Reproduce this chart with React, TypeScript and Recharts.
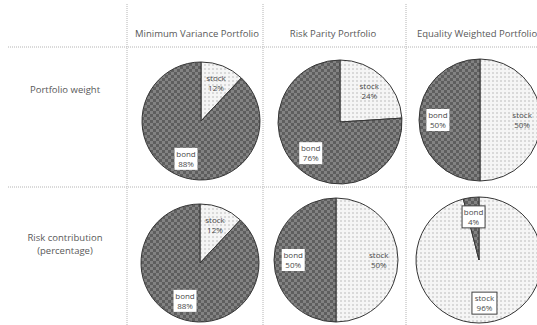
import { PieChart, Pie, Cell } from 'recharts'

// asset split, stock slice first (clockwise from 12 o'clock)
const assets = ['stock', 'bond']
const columns = ['Minimum Variance Portfolio', 'Risk Parity Portfolio', 'Equality Weighted Portfolio']
const rows = [['Portfolio weight'], ['Risk contribution', '(percentage)']]

const weightMV = [12, 88]
const weightRP = [24, 76]
const weightEW = [50, 50]
const riskMV = [12, 88]
const riskRP = [50, 50]
const riskEW = [96, 4]

const toSlices = (values: number[]) => values.map((v, i) => ({ name: assets[i], value: v }))

const W = 537
const H = 325
const TEXT = '#595959'
const GRID = '#b4b4b4'
const FONT = '"Open Sans", "Noto Sans", sans-serif'

interface Panel {
  values: number[]
  cx: number
  cy: number
  r: number
  framed: boolean
}

const panels: Panel[] = [
  { values: weightMV, cx: 196, cy: 116, r: 59, framed: false },
  { values: weightRP, cx: 335, cy: 117, r: 62, framed: false },
  { values: weightEW, cx: 475, cy: 115, r: 61, framed: false },
  { values: riskMV, cx: 195, cy: 258, r: 59, framed: false },
  { values: riskRP, cx: 331, cy: 255, r: 62, framed: false },
  { values: riskEW, cx: 474, cy: 255, r: 63, framed: true },
]

const RADIAN = Math.PI / 180

const makeLabel = (framed: boolean) => (props: any) => {
  const { cx, cy, midAngle, outerRadius, payload } = props
  const d = outerRadius * 0.69
  const x = cx + d * Math.cos(-midAngle * RADIAN)
  const y = cy + d * Math.sin(-midAngle * RADIAN)
  const name = payload.name as string
  const boxed = framed || name === 'bond'
  const bw = name === 'stock' ? 25 : 23
  return (
    <g>
      {boxed && (
        <rect
          x={x - bw / 2}
          y={y - 11}
          width={bw}
          height={22}
          fill="#ffffff"
          stroke={framed ? '#404040' : 'none'}
          strokeWidth={1}
        />
      )}
      <text x={x} y={y - 2} textAnchor="middle" fontSize={8} fontFamily={FONT} fill="#4a4a4a">
        {name}
      </text>
      <text x={x} y={y + 8} textAnchor="middle" fontSize={8} fontFamily={FONT} fill="#4a4a4a">
        {`${payload.value}%`}
      </text>
    </g>
  )
}

const colX = [197, 333, 477]
const vLines = [127, 263, 406]
const hLines = [47, 187]

export default function App() {
  return (
    <div style={{ position: 'fixed', left: 0, top: 0, width: W, height: H, background: '#fff' }}>
      <svg width={W} height={H} style={{ position: 'absolute', left: 0, top: 0 }}>
        {vLines.map((x) => (
          <line key={x} x1={x} y1={4} x2={x} y2={H} stroke={GRID} strokeWidth={1} strokeDasharray="1 1" />
        ))}
        {hLines.map((y) => (
          <line key={y} x1={8} y1={y} x2={W} y2={y} stroke={GRID} strokeWidth={1} strokeDasharray="1 1" />
        ))}
        {columns.map((c, i) => (
          <text key={c} x={colX[i]} y={37} textAnchor="middle" fontSize={9.5} fontFamily={FONT} fill={TEXT}>
            {c}
          </text>
        ))}
        {rows.map((lines, i) =>
          lines.map((t, j) => (
            <text
              key={t}
              x={65}
              y={(i === 0 ? 93 : 241) + j * 12.5}
              textAnchor="middle"
              fontSize={9.5}
              fontFamily={FONT}
              fill={TEXT}
            >
              {t}
            </text>
          ))
        )}
      </svg>
      <div style={{ position: 'absolute', left: 0, top: 0 }}>
        <PieChart width={W} height={H}>
          <defs>
            <pattern id="bondFill" width={6} height={6} patternUnits="userSpaceOnUse">
              <rect width={6} height={6} fill="#828282" />
              <rect width={3} height={3} fill="#5e5e5e" />
              <rect x={3} y={3} width={3} height={3} fill="#5e5e5e" />
            </pattern>
            <pattern id="stockFill" width={4} height={4} patternUnits="userSpaceOnUse">
              <rect width={4} height={4} fill="#f5f5f5" />
              <circle cx={1} cy={1} r={0.7} fill="#a8a8a8" />
            </pattern>
          </defs>
          {panels.map((p, i) => (
            <Pie
              key={i}
              data={toSlices(p.values)}
              dataKey="value"
              nameKey="name"
              cx={p.cx}
              cy={p.cy}
              outerRadius={p.r}
              startAngle={90}
              endAngle={-270}
              stroke="#353535"
              strokeWidth={1}
              labelLine={false}
              label={makeLabel(p.framed)}
              isAnimationActive={false}
            >
              {assets.map((a) => (
                <Cell key={a} fill={a === 'bond' ? 'url(#bondFill)' : 'url(#stockFill)'} />
              ))}
            </Pie>
          ))}
        </PieChart>
      </div>
    </div>
  )
}
